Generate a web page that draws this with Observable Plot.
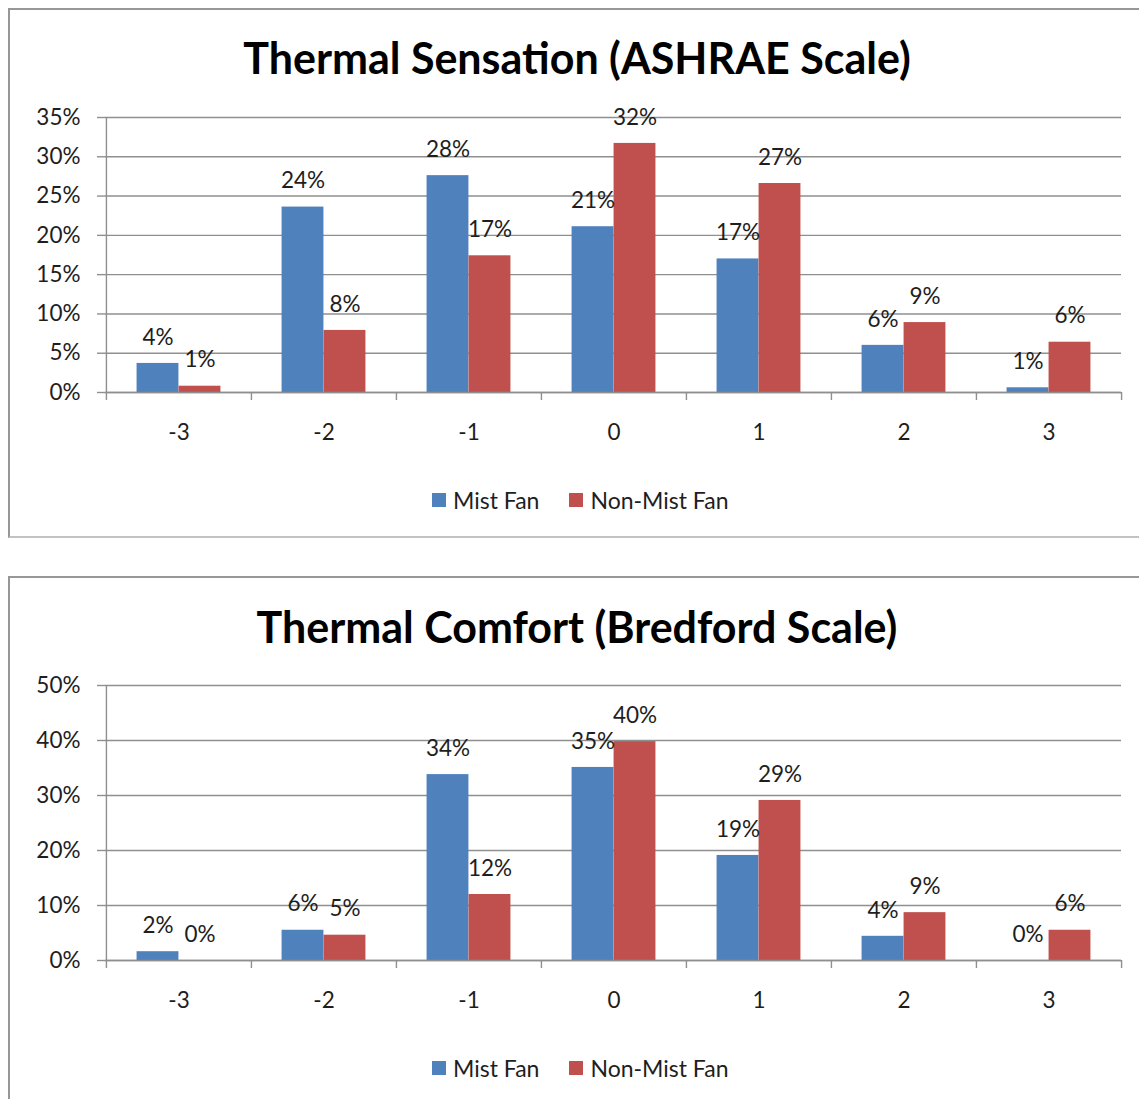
<!DOCTYPE html>
<html><head><meta charset="utf-8">
<script src="https://cdn.jsdelivr.net/npm/d3@7"></script>
<script src="https://cdn.jsdelivr.net/npm/@observablehq/plot@0.6"></script>
<style>
body{margin:0;background:#fff;font-family:Lato,"Noto Sans",sans-serif;width:1139px;height:1099px;overflow:hidden;position:relative;color:#1e1e1e}
.box{position:absolute;left:8px;width:1140px;box-sizing:border-box;border-top:2px solid #979797;border-left:2px solid #979797;border-bottom:2px solid #c2c2c2}
.title{position:absolute;left:0;width:1154px;text-align:center;font-weight:bold;font-size:43px;line-height:50px;color:#000}
.plot{position:absolute;left:0}
.legend{position:absolute;display:flex;align-items:center;font-size:23px;line-height:26px}
.legend .sw{width:14px;height:14px;margin-right:7px;display:inline-block}
.legend .item{display:flex;align-items:center;margin-right:30px}
</style></head><body>
<script>
const categories = ["-3", "-2", "-1", "0", "1", "2", "3"];
const seriesNames = ["Mist Fan", "Non-Mist Fan"];
const seriesColors = ["#4F81BD", "#C0504D"];

const sensationTitle = "Thermal Sensation (ASHRAE Scale)";
const sensationMist    = [0.037, 0.236, 0.276, 0.211, 0.170, 0.060, 0.006];
const sensationNonMist = [0.008, 0.079, 0.174, 0.317, 0.266, 0.089, 0.064];
const sensationTicks   = [0, 0.05, 0.10, 0.15, 0.20, 0.25, 0.30, 0.35];

const comfortTitle = "Thermal Comfort (Bredford Scale)";
const comfortMist    = [0.016, 0.055, 0.338, 0.351, 0.191, 0.044, 0.000];
const comfortNonMist = [0.000, 0.046, 0.120, 0.398, 0.291, 0.087, 0.055];
const comfortTicks   = [0, 0.10, 0.20, 0.30, 0.40, 0.50];

const W = 1139, ML = 105, MR = 18, MT = 17, MB = 68, H = 360;
const bw = (W - ML - MR) / categories.length;
const barW = 42;
const gridColor = "#8f8f8f";
const textColor = "#1e1e1e";
const fs = 22.5;
const fmt = d3.format(".0%");

function makeChart(boxTop, boxHeight, titleTop, svgTop, legendTop, title, mist, nonMist, ticks) {
  const box = document.createElement("div");
  box.className = "box";
  box.style.top = boxTop + "px";
  box.style.height = boxHeight + "px";
  document.body.appendChild(box);

  const t = document.createElement("div");
  t.className = "title";
  t.style.top = titleTop + "px";
  t.textContent = title;
  document.body.appendChild(t);

  const rows = [];
  categories.forEach((c, i) => {
    rows.push({cat: c, series: seriesNames[0], value: mist[i]});
    rows.push({cat: c, series: seriesNames[1], value: nonMist[i]});
  });
  const A = rows.filter(d => d.series === seriesNames[0]);
  const B = rows.filter(d => d.series === seriesNames[1]);

  const chart = Plot.plot({
    width: W, height: H,
    marginLeft: ML, marginRight: MR, marginTop: MT, marginBottom: MB,
    style: {fontFamily: "Lato, 'Noto Sans', sans-serif", fontSize: fs + "px", color: textColor, background: "transparent", overflow: "visible"},
    x: {type: "band", domain: categories, padding: 0, label: null},
    y: {domain: [0, ticks[ticks.length - 1]], label: null},
    marks: [
      Plot.gridY(ticks, {stroke: gridColor, strokeOpacity: 1, strokeWidth: 1.4}),
      Plot.ruleX([categories[0]], {dx: -bw / 2, stroke: gridColor, strokeWidth: 1.4}),
      Plot.axisY({ticks, tickFormat: fmt, tickSize: 8, tickPadding: 17, stroke: gridColor, strokeWidth: 1.4, fill: textColor, fontSize: fs, label: null}),
      Plot.axisX({ticks: categories, tickSize: 8, tickFormat: () => "", dx: -bw / 2, stroke: gridColor, strokeWidth: 1.4, label: null}),
      Plot.axisX({ticks: [categories[categories.length - 1]], tickSize: 8, tickFormat: () => "", dx: bw / 2, stroke: gridColor, strokeWidth: 1.4, label: null}),
      Plot.axisX({tickSize: 0, tickPadding: 32, fill: textColor, fontSize: fs, label: null}),
      Plot.barY(A, {x: "cat", y: "value", fill: seriesColors[0], insetLeft: bw / 2 - barW, insetRight: bw / 2}),
      Plot.barY(B, {x: "cat", y: "value", fill: seriesColors[1], insetLeft: bw / 2, insetRight: bw / 2 - barW}),
      Plot.ruleY([0], {stroke: gridColor, strokeWidth: 1.4}),
      Plot.text(A, {x: "cat", y: "value", text: d => fmt(d.value), dx: -barW / 2, dy: -26, fontSize: fs, fill: textColor}),
      Plot.text(B, {x: "cat", y: "value", text: d => fmt(d.value), dx: barW / 2, dy: -26, fontSize: fs, fill: textColor})
    ]
  });
  chart.classList.add("plot");
  chart.style.top = svgTop + "px";
  document.body.appendChild(chart);

  const lg = document.createElement("div");
  lg.className = "legend";
  lg.style.top = legendTop + "px";
  lg.style.left = "432px";
  seriesNames.forEach((n, i) => {
    const it = document.createElement("span");
    it.className = "item";
    const sw = document.createElement("span");
    sw.className = "sw";
    sw.style.background = seriesColors[i];
    it.appendChild(sw);
    it.appendChild(document.createTextNode(n));
    lg.appendChild(it);
  });
  document.body.appendChild(lg);
}

makeChart(8, 530, 33, 100, 487, sensationTitle, sensationMist, sensationNonMist, sensationTicks);
makeChart(576, 540, 602, 668, 1055, comfortTitle, comfortMist, comfortNonMist, comfortTicks);
</script>
</body></html>
